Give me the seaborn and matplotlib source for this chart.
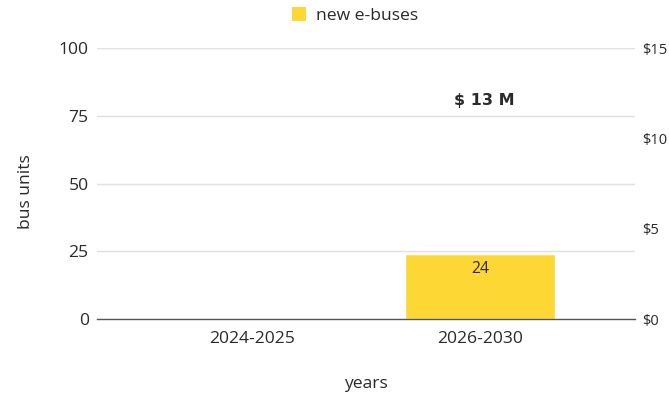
import pandas as pd
import seaborn as sns
from matplotlib import pyplot as plt
from matplotlib.patches import Patch

periods = ["2024-2025", "2026-2030"]
new_ebuses = [0, 24]
cost_musd = [None, 13]
left_ticks = [0, 25, 50, 75, 100]
right_ticks = [0, 5, 10, 15]
right_labels = ["$0", "$5", "$10", "$15"]

sns.set_theme(style="white")
plt.rcParams["font.family"] = ["Open Sans", "DejaVu Sans"]

bar_color = "#fdd835"
text_color = "#2a2a2a"
fs = 12.6

df = pd.DataFrame({"period": periods, "units": new_ebuses})

fig = plt.figure(figsize=(6.69, 3.95), dpi=100)
ax = fig.add_axes([0.145, 0.192, 0.804, 0.686])

sns.barplot(data=df, x="period", y="units", color=bar_color, width=0.66,
            saturation=1, ax=ax, zorder=3)

ax.set_xlim(-0.68, 1.68)
ax.set_ylim(0, 100)
ax.set_yticks(left_ticks)
ax.yaxis.grid(True, color="#e0e0e0", lw=1, zorder=0)
ax.tick_params(axis="y", length=0, pad=6, labelsize=fs, colors=text_color)
ax.tick_params(axis="x", length=0, pad=8.5, labelsize=fs, colors=text_color)
for s in ["top", "right", "left"]:
    ax.spines[s].set_visible(False)
ax.spines["bottom"].set_color("#555555")
ax.spines["bottom"].set_linewidth(1)
ax.spines["bottom"].set_zorder(4)

ax.set_xlabel("years", fontsize=fs, color=text_color, labelpad=21)
ax.set_ylabel("bus units", fontsize=fs, color=text_color)
ax.yaxis.set_label_coords(-0.118, 0.47)

# bar value labels
for i, v in enumerate(new_ebuses):
    if v > 0:
        ax.annotate(str(v), xy=(i, v), xytext=(0, -11), textcoords="offset points",
                    ha="center", va="center", fontsize=11.3, color=text_color, zorder=5)

# cost axis on the right
ax2 = ax.twinx()
ax2.set_ylim(0, 15)
ax2.set_yticks(right_ticks)
ax2.set_yticklabels(right_labels)
ax2.tick_params(axis="y", length=0, pad=5.5, labelsize=10.5, colors=text_color)
for s in ax2.spines.values():
    s.set_visible(False)
ax2.grid(False)

for i, c in enumerate(cost_musd):
    if c is not None:
        ax2.annotate(f"$ {c} M", xy=(i, c), xytext=(3, -11.5), textcoords="offset points",
                     ha="center", va="center", fontsize=11.5, fontweight="bold",
                     family="DejaVu Sans", color=text_color)

handles = [Patch(facecolor=bar_color, edgecolor="none", label="new e-buses")]
fig.legend(handles=handles, loc="center", bbox_to_anchor=(0.531, 0.96), frameon=False,
           fontsize=fs, handlelength=0.8, handleheight=0.8, handletextpad=0.6,
           labelcolor=text_color)

fig.savefig("out.png", dpi=100)
